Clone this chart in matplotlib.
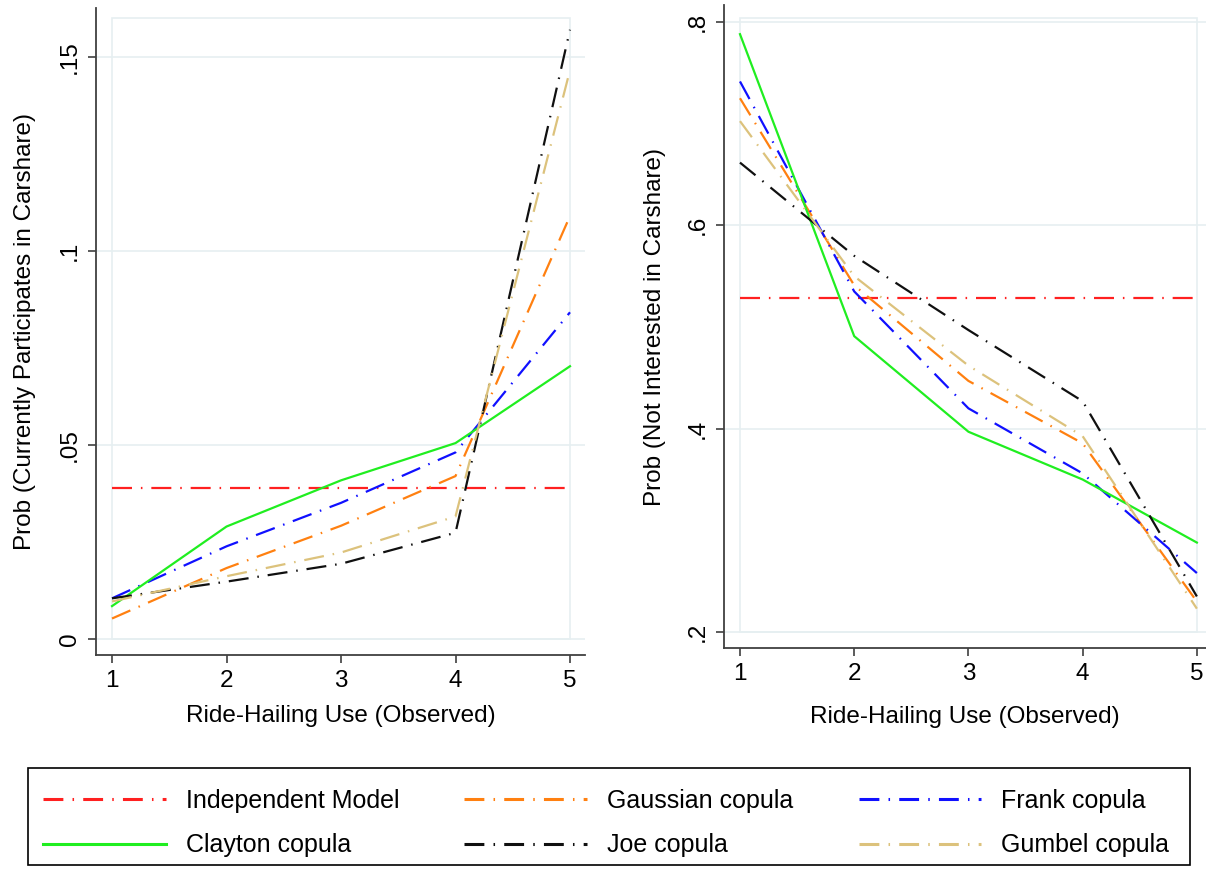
import matplotlib
matplotlib.use("Agg")
import matplotlib.pyplot as plt
from matplotlib.lines import Line2D
from matplotlib.patches import Rectangle

plt.rcParams['font.family'] = ['Liberation Sans', 'DejaVu Sans']

# data
x_vals = [1, 2, 3, 4, 5]
series_names = ["Independent Model", "Gaussian copula", "Frank copula",
                "Clayton copula", "Joe copula", "Gumbel copula"]

# left panel: Prob (Currently Participates in Carshare)
left_independent = [0.039, 0.039, 0.039, 0.039, 0.039]
left_gaussian = [0.0053, 0.0183, 0.0292, 0.042, 0.109]
left_frank = [0.0105, 0.0239, 0.0351, 0.0481, 0.0842]
left_clayton = [0.0085, 0.029, 0.0409, 0.0505, 0.0703]
left_joe = [0.0105, 0.0148, 0.0194, 0.0274, 0.157]
left_gumbel = [0.0097, 0.0162, 0.0223, 0.0316, 0.1466]

# right panel: Prob (Not Interested in Carshare)
right_independent = [0.5285, 0.5285, 0.5285, 0.5285, 0.5285]
right_gaussian = [0.725, 0.541, 0.447, 0.3856, 0.230]
right_frank = [0.7415, 0.535, 0.420, 0.356, 0.258]
right_clayton = [0.788, 0.491, 0.397, 0.350, 0.288]
right_joe = [0.6617, 0.570, 0.497, 0.427, 0.235]
right_gumbel = [0.7025, 0.550, 0.462, 0.3926, 0.223]

left_ticks = [0, 0.05, 0.1, 0.15]
left_ticklabels = ["0", ".05", ".1", ".15"]
right_ticks = [0.2, 0.4, 0.6, 0.8]
right_ticklabels = [".2", ".4", ".6", ".8"]

colors = {"Independent Model": "#ff2020", "Gaussian copula": "#ff8010",
          "Frank copula": "#1010ff", "Clayton copula": "#20ee20",
          "Joe copula": "#101010", "Gumbel copula": "#dcc27c"}
dashdot = (9, 4, 0.7, 4)
styles = {n: dashdot for n in series_names}
styles["Clayton copula"] = None

FS = 17.5
LFS = 18
spine_col = "#404040"
grid_col = "#e6eff1"


def style_axes(ax, xlim, ylim, ticks, ticklabels, box_top, xpad):
    ax.set_xlim(*xlim)
    ax.set_ylim(*ylim)
    for s in ["top", "right"]:
        ax.spines[s].set_visible(False)
    for s in ["left", "bottom"]:
        ax.spines[s].set_color(spine_col)
        ax.spines[s].set_linewidth(1.3)
    ax.set_xticks(x_vals)
    ax.set_xticklabels([str(v) for v in x_vals], fontsize=FS)
    ax.set_yticks(ticks)
    ax.set_yticklabels(ticklabels, fontsize=FS, rotation=90, va="center")
    ax.tick_params(length=6, width=1.2, color=spine_col, pad=5)
    for t in ticks:
        ax.axhline(t, color=grid_col, lw=1.2, zorder=0)
    ax.add_patch(Rectangle((x_vals[0], ticks[0]), x_vals[-1] - x_vals[0],
                           box_top - ticks[0], fill=False, ec=grid_col,
                           lw=1.2, zorder=0))
    ax.set_xlabel("Ride-Hailing Use (Observed)", fontsize=FS, labelpad=xpad)


def draw(ax, data):
    for name in series_names:
        line, = ax.plot(x_vals, data[name], color=colors[name], lw=1.6)
        if styles[name] is not None:
            line.set_dashes(styles[name])


fig = plt.figure(figsize=(12.06, 8.74), dpi=100)

ax1 = fig.add_axes([96 / 1206, 219 / 874, 489 / 1206, 647 / 874])
draw(ax1, {"Independent Model": left_independent, "Gaussian copula": left_gaussian,
           "Frank copula": left_frank, "Clayton copula": left_clayton,
           "Joe copula": left_joe, "Gumbel copula": left_gumbel})
style_axes(ax1, (0.86, 5.131), (-0.0041, 0.1626), left_ticks, left_ticklabels, 0.16, 9)
ax1.set_ylabel("Prob (Currently Participates in Carshare)", fontsize=FS, labelpad=16)

ax2 = fig.add_axes([724 / 1206, 226 / 874, 482 / 1206, 643 / 874])
draw(ax2, {"Independent Model": right_independent, "Gaussian copula": right_gaussian,
           "Frank copula": right_frank, "Clayton copula": right_clayton,
           "Joe copula": right_joe, "Gumbel copula": right_gumbel})
style_axes(ax2, (0.86, 5.08), (0.1843, 0.8167), right_ticks, right_ticklabels, 0.804, 15)
ax2.set_ylabel("Prob (Not Interested in Carshare)", fontsize=FS, labelpad=15)

# legend frame drawn separately, entries filled column by column
fig.add_artist(Rectangle((28 / 1206, 9 / 874), 1162 / 1206, 97 / 874,
                         transform=fig.transFigure, fill=False,
                         ec="black", lw=1.2))
order = ["Independent Model", "Clayton copula", "Gaussian copula",
         "Joe copula", "Frank copula", "Gumbel copula"]
handles = []
for name in order:
    h = Line2D([], [], color=colors[name], lw=2.2)
    if styles[name] is not None:
        h.set_dashes((6.5, 3, 0.5, 3))
    handles.append(h)
leg = fig.legend(handles, order, ncol=3, fontsize=LFS, loc="center",
                 bbox_to_anchor=(43 / 1206, (874 - 823) / 874, 1126 / 1206, 0),
                 mode="expand", frameon=False,
                 handlelength=4.9, handletextpad=0.8, labelspacing=0.82,
                 borderpad=0, borderaxespad=0)

fig.savefig("out.png", dpi=100)
